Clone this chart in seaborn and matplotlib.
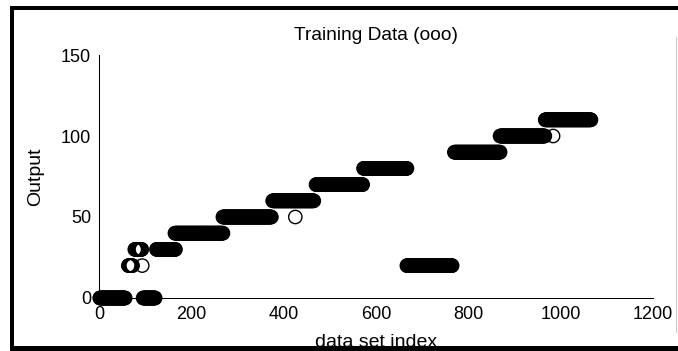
import numpy as np
import pandas as pd
import matplotlib
matplotlib.use("Agg")
import matplotlib.pyplot as plt
from matplotlib.patches import Rectangle
import seaborn as sns

# Runs of constant output: first index, last index, output level
run_start = [1, 63, 77, 93, 95, 124, 164, 268, 376, 425, 470, 573, 667, 770, 869, 967, 984]
run_end = [56, 72, 92, 93, 121, 165, 268, 373, 465, 425, 571, 667, 765, 869, 966, 1066, 984]
run_level = [0, 20, 30, 20, 0, 30, 40, 50, 60, 50, 70, 80, 20, 90, 100, 110, 100]

x_ticks = [0, 200, 400, 600, 800, 1000, 1200]
y_ticks = [0, 50, 100, 150]

idx, out = [], []
for a, b, lev in zip(run_start, run_end, run_level):
    pts = np.arange(a, b + 1)
    idx.extend(pts)
    out.extend([lev] * len(pts))
df = pd.DataFrame({"index": idx, "output": out})

sns.set_style("white")
plt.rcParams["font.family"] = ["Liberation Sans", "DejaVu Sans"]
plt.rcParams["text.color"] = "black"
plt.rcParams["axes.labelcolor"] = "black"

fig = plt.figure(figsize=(6.78, 3.51), dpi=100)
ax = fig.add_axes([0.1465, 0.151, 0.8162, 0.6923])

sns.scatterplot(data=df, x="index", y="output", ax=ax, marker="o", s=92,
                facecolors="none", edgecolors="black", linewidth=1.0,
                legend=False, zorder=3, clip_on=False)

ax.set_xlim(0, 1200)
ax.set_ylim(0, 150)
ax.set_xticks(x_ticks)
ax.set_yticks(y_ticks)
ax.tick_params(direction="in", length=3.6, width=0.75, colors="black",
               labelsize=13, pad=6)
for side in ("top", "right"):
    ax.spines[side].set_visible(False)
for side in ("left", "bottom"):
    ax.spines[side].set_color("black")
    ax.spines[side].set_linewidth(0.75)

ax.set_title("Training Data (ooo)", fontsize=13.8, pad=11, color="black")
ax.set_xlabel("data set index", fontsize=14, color="black")
ax.set_ylabel("Output", fontsize=14, color="black")
ax.xaxis.set_label_coords(0.5, -0.148)
ax.yaxis.set_label_coords(-0.1, 0.5)

# Window frame around the figure
W, H = 678.0, 351.0
frame = dict(facecolor="black", edgecolor="none", zorder=10,
             transform=fig.transFigure)
fig.patches.append(Rectangle((10 / W, 1 - 10 / H), 1 - 10 / W, 4 / H, **frame))
fig.patches.append(Rectangle((10 / W, 0), 4 / W, 1 - 6 / H, **frame))
fig.patches.append(Rectangle((10 / W, 0), 1 - 10 / W, 5 / H, **frame))
fig.patches.append(Rectangle((676 / W, 18 / H), 1.2 / W, 296 / H,
                             facecolor="#c8c8c8", edgecolor="none", zorder=10,
                             transform=fig.transFigure))

fig.savefig("out.png", dpi=100)
